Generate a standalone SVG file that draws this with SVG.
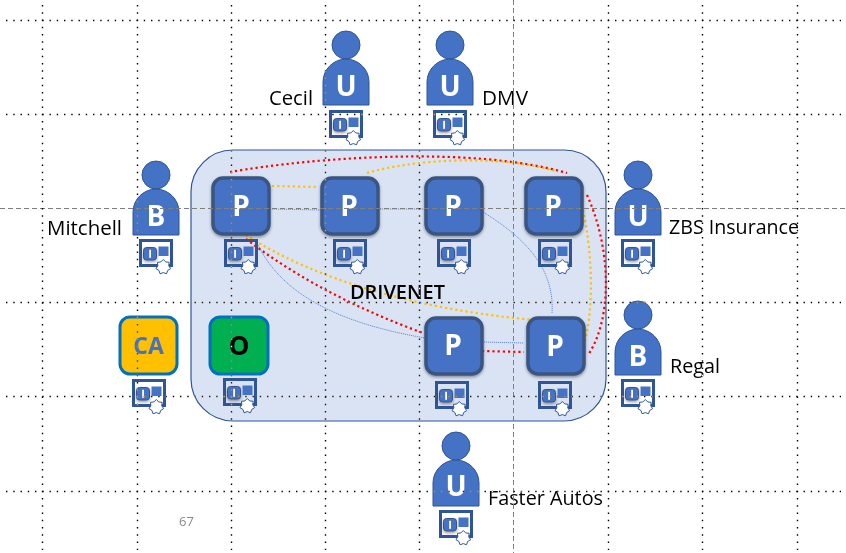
<svg xmlns="http://www.w3.org/2000/svg" width="846" height="553" viewBox="0 0 846 553">
<style>
text{font-family:"Open Sans","Liberation Sans",sans-serif}
.label{font-size:20px;fill:#000}
.mark{font-size:28px;font-weight:700;fill:#fff;text-anchor:middle}
.pn{fill:#4472C4;stroke:#3B5482;stroke-width:3.5}
.body{fill:#4472C4;stroke:#2F5597;stroke-width:1}
.red{fill:none;stroke:#FF0000;stroke-width:2.2;stroke-dasharray:2.2 3}
.org{fill:none;stroke:#FFC000;stroke-width:2.2;stroke-dasharray:2.2 3}
.blu{fill:none;stroke:#4472C4;stroke-width:1;stroke-opacity:.75;stroke-dasharray:1.2 .8}
.dots{fill:none;stroke:#fff;stroke-width:1.4;stroke-dasharray:1.4 5.85}
.guide{fill:none;stroke:#fff;stroke-width:1;stroke-opacity:.5;stroke-dasharray:5 3}
#grid{mix-blend-mode:difference}
</style>
<defs>
<filter id="sh" x="-30%" y="-30%" width="160%" height="160%"><feDropShadow dx="0" dy="1.5" stdDeviation="1.5" flood-color="#000" flood-opacity=".4"/></filter>
<g id="cert">
<rect x="1.500" y="1.500" width="31" height="25" fill="none" stroke="#2F5597" stroke-width="3"/>
<rect x="4.500" y="8.500" width="13" height="12.500" rx="3" fill="#4472C4" stroke="#3B5482" stroke-width="1" filter="url(#sh)"/>
<rect x="10.200" y="10.800" width="1.800" height="8" fill="#fff"/>
<rect x="19.500" y="7.500" width="10" height="9.500" fill="#4472C4"/>
<polygon points="24.3,20.5 26.73,22.95 30.16,23.32 29.76,26.75 31.61,29.67 28.67,31.49 27.55,34.76 24.3,33.6 21.05,34.76 19.93,31.49 16.99,29.67 18.84,26.75 18.44,23.32 21.87,22.95" fill="#fff" stroke="#2F5597" stroke-width="1"/>
</g>
<g id="person">
<circle cx="0" cy="0" r="14" class="body"/>
<path d="M-23 60V37C-23 24-12 14 0 14S23 24 23 37V60Z" class="body"/>
</g>
</defs>
<rect width="846" height="553" fill="#fff"/>
<rect id="drivenet" x="191" y="150" width="415" height="271" rx="42" fill="#DAE3F3" stroke="#2F5597" stroke-width="1.2"/>
<g id="connectors">
<path class="red" d="M230 172C310 158 470 145 567 173"/>
<path class="org" d="M367 173C410 160 500 153 558 172"/>
<path class="org" d="M272 186L318 187"/>
<path class="red" d="M587 195C612 250 612 320 588 355"/>
<path class="org" d="M583 210C592 250 595 310 583 348"/>
<path class="red" d="M246 239C300 280 360 310 423 333"/>
<path class="org" d="M246 235C315 280 420 310 535 320"/>
<path class="blu" d="M258 245C285 300 350 325 425 338"/>
<path class="blu" d="M272 209L320 210"/>
<path class="blu" d="M378 209L425 209"/>
<path class="blu" d="M483 212C520 235 555 265 552 313"/>
<path class="blu" d="M482 342L524 343"/>
<path class="red" d="M482 351L524 352"/>
</g>
<g id="p1"><rect class="pn" x="213" y="178" width="56" height="56" rx="10" filter="url(#sh)"/><text class="mark" x="241" y="216">P</text><use href="#cert" x="224" y="239"/></g>
<g id="p2"><rect class="pn" x="322" y="178" width="56" height="56" rx="10" filter="url(#sh)"/><text class="mark" x="349" y="216">P</text><use href="#cert" x="333" y="239"/></g>
<g id="p3"><rect class="pn" x="426" y="178" width="56" height="56" rx="10" filter="url(#sh)"/><text class="mark" x="453" y="216">P</text><use href="#cert" x="437" y="239"/></g>
<g id="p4"><rect class="pn" x="526" y="178" width="56" height="56" rx="10" filter="url(#sh)"/><text class="mark" x="553" y="216">P</text><use href="#cert" x="538" y="239"/></g>
<g id="p5"><rect class="pn" x="426" y="318" width="56" height="56" rx="10" filter="url(#sh)"/><text class="mark" x="453" y="355">P</text><use href="#cert" x="435" y="381"/></g>
<g id="p6"><rect class="pn" x="528" y="318" width="56" height="56" rx="10" filter="url(#sh)"/><text class="mark" x="555" y="356">P</text><use href="#cert" x="538" y="381"/></g>
<g id="ca"><rect x="120" y="317" width="57" height="57" rx="10" fill="#FFC000" stroke="#0070C0" stroke-width="3"/><text x="148.500" y="354" font-size="23" font-weight="700" fill="#4472C4" text-anchor="middle">CA</text><use href="#cert" x="132" y="379"/></g>
<g id="o"><rect x="210" y="317" width="58" height="57" rx="10" fill="#00B050" stroke="#0070C0" stroke-width="3"/><text x="239" y="355" font-size="26" font-weight="700" fill="#000" text-anchor="middle">O</text><use href="#cert" x="223" y="378"/></g>
<g id="cecil"><use href="#person" x="346" y="45"/><text class="mark" x="346" y="96">U</text><use href="#cert" x="329" y="110"/><text class="label" x="269" y="105" textLength="44" lengthAdjust="spacingAndGlyphs">Cecil</text></g>
<g id="dmv"><use href="#person" x="450" y="45"/><text class="mark" x="450" y="96">U</text><use href="#cert" x="433" y="110"/><text class="label" x="482" y="105" textLength="46" lengthAdjust="spacingAndGlyphs">DMV</text></g>
<g id="mitchell"><use href="#person" x="156" y="175"/><text class="mark" x="156" y="226">B</text><use href="#cert" x="139" y="239"/><text class="label" x="47" y="235" textLength="75" lengthAdjust="spacingAndGlyphs">Mitchell</text></g>
<g id="zbs"><use href="#person" x="638" y="175"/><text class="mark" x="638" y="226">U</text><use href="#cert" x="621" y="239"/><text class="label" x="669" y="234" textLength="130" lengthAdjust="spacingAndGlyphs">ZBS Insurance</text></g>
<g id="regal"><use href="#person" x="638" y="315"/><text class="mark" x="638" y="366">B</text><use href="#cert" x="621" y="379"/><text class="label" x="670" y="373" textLength="50" lengthAdjust="spacingAndGlyphs">Regal</text></g>
<g id="faster"><use href="#person" x="456" y="446"/><text class="mark" x="456" y="496">U</text><use href="#cert" x="439" y="510"/><text class="label" x="488" y="505" textLength="115" lengthAdjust="spacingAndGlyphs">Faster Autos</text></g>
<text x="350" y="299" font-size="20" font-weight="600" fill="#000" textLength="95" lengthAdjust="spacingAndGlyphs">DRIVENET</text>
<text x="179" y="526" font-size="13" fill="#8a8a8a">67</text>
<g id="grid">
<path class="dots" d="M6 20.500H841M6 114.500H841M6 302.500H841M6 396.500H841M6 491.500H841"/>
<path class="dots" d="M42.500 5V550M137.500 5V550M231.500 5V550M325.500 5V550M419.500 5V550M608.500 5V550M702.500 5V550M797.500 5V550"/>
<path class="guide" d="M0 208.500H846M513.500 0V553"/>
</g>
</svg>
